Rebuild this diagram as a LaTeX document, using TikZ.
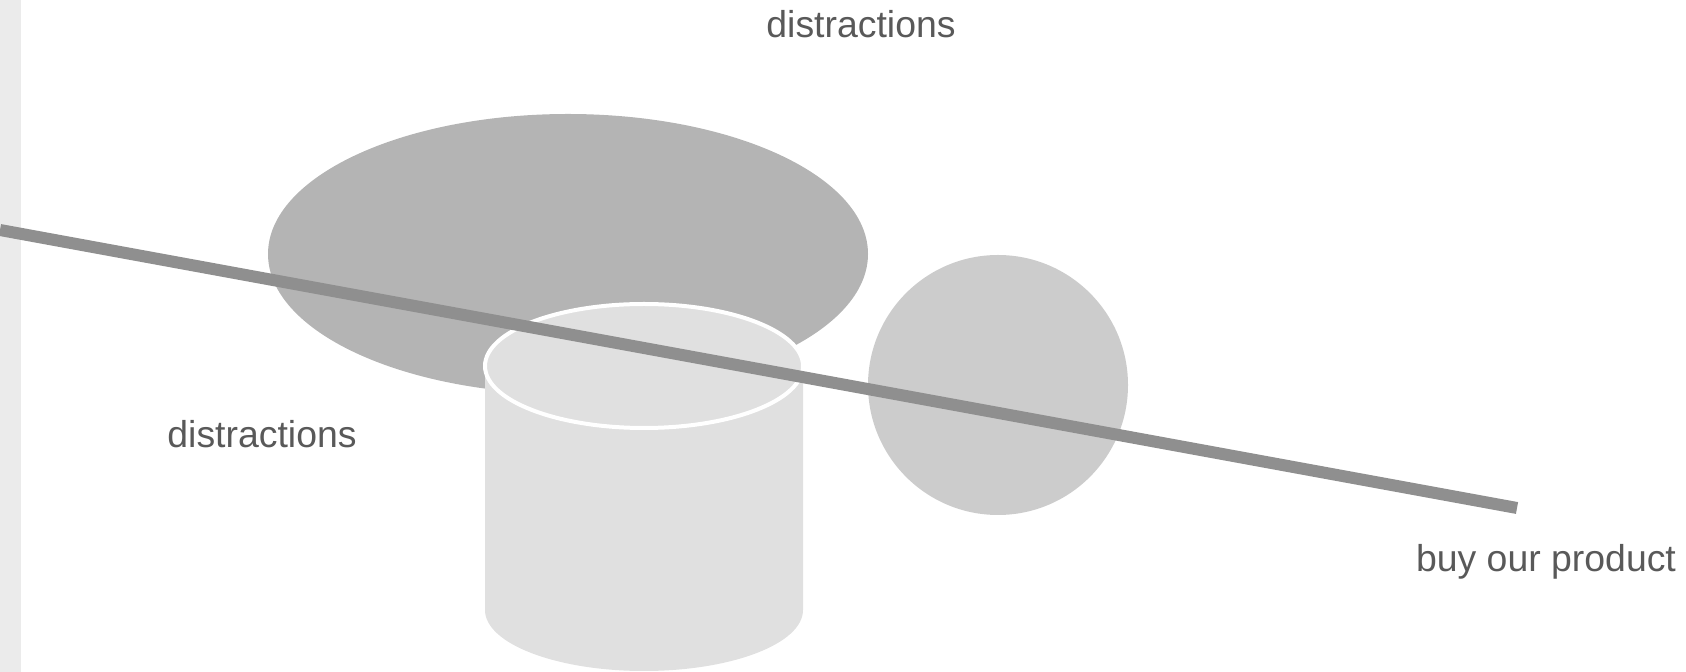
\documentclass[tikz,border=0pt]{standalone}
\usepackage{fontspec}
\setmainfont{Liberation Sans}
\usetikzlibrary{positioning}
\definecolor{sidebar}{HTML}{EBEBEB}
\definecolor{bigblob}{HTML}{B4B4B4}
\definecolor{ballgray}{HTML}{CCCCCC}
\definecolor{canfill}{HTML}{E0E0E0}
\definecolor{beamgray}{HTML}{8F8F8F}
\definecolor{labeltext}{HTML}{595959}

\begin{document}
\begin{tikzpicture}[x=0.5pt, y=-0.5pt,
  lbl/.style={font=\fontsize{18.7}{23}\selectfont, text=labeltext, inner sep=0pt, anchor=base}]
  \useasboundingbox (0,0) rectangle (1686,672);
  \fill[sidebar] (0,0) rectangle (21,672);
  % Shapes
  \fill[bigblob] (568,254) ellipse [x radius=300, y radius=140];
  \fill[ballgray] (998,385) circle [radius=130];
  % Cylinder
  \fill[canfill] (485,366) -- (485,610) arc [start angle=180, end angle=0, x radius=159, y radius=61] -- (803,366) -- cycle;
  \filldraw[fill=canfill, draw=white, line width=2pt] (644,366) ellipse [x radius=159, y radius=62];
  % Beam
  \coordinate (beamL) at (0,230);
  \coordinate (beamR) at (1517,508);
  \draw[beamgray, line width=6pt] (beamL) -- (beamR);
  % Labels
  \node[lbl] (lbltop) at (861,38) {distractions};
  \node[lbl] (lblleft) at (262,448) {distractions};
  \node[lbl] (lblbuy) at (1546,572) {buy our product};
\end{tikzpicture}
\end{document}
